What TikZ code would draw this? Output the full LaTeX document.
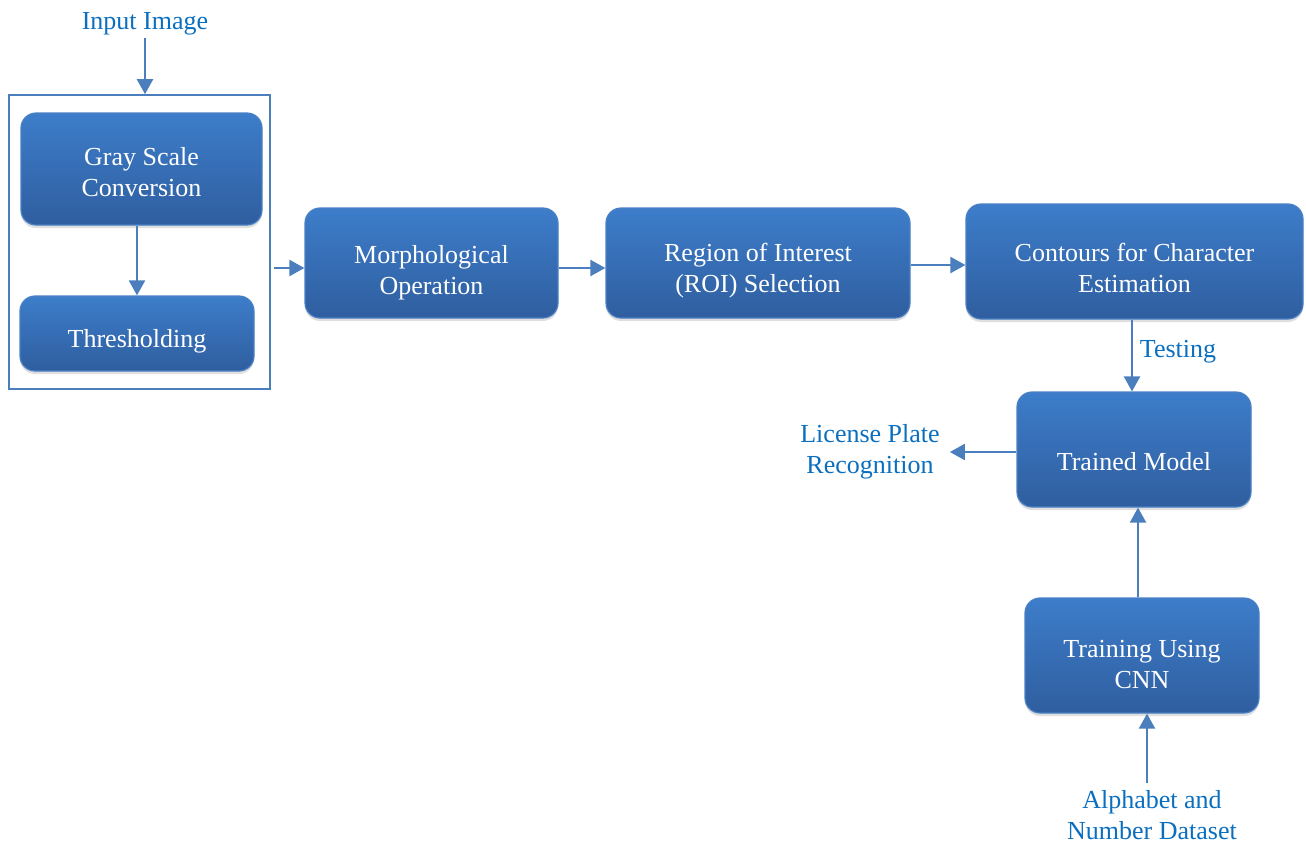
\documentclass[tikz,border=0pt]{standalone}
\usepackage{fontspec}
\setmainfont{Liberation Serif}
\usetikzlibrary{arrows.meta,shadows}
\definecolor{boxtop}{HTML}{3D7DCA}
\definecolor{boxbot}{HTML}{2F5E9F}
\definecolor{boxedge}{HTML}{4A80C4}
\definecolor{lbl}{HTML}{0B6FBF}
\definecolor{arr}{HTML}{4A7EBD}
\tikzset{
  procbox/.style={rectangle, rounded corners=15pt, top color=boxtop, bottom color=boxbot,
    draw=boxedge, line width=1.2pt, inner sep=0pt,
    drop shadow={opacity=0.25, shadow xshift=0pt, shadow yshift=-3pt}},
  boxtext/.style={text=white, align=center, font=\fontsize{26pt}{31pt}\selectfont, inner sep=0pt},
  lbltext/.style={text=lbl, align=center, font=\fontsize{26pt}{31pt}\selectfont, inner sep=0pt},
  flow/.style={draw=arr, line width=2.2pt, -{Triangle[length=15pt,width=16pt]}, color=arr},
}
\begin{document}
\begin{tikzpicture}[x=1pt,y=-1pt]
\useasboundingbox (0,0) rectangle (1306,844);
% container
\node[draw=arr, line width=1.6pt, minimum width=261pt, minimum height=294pt, inner sep=0pt] (grp) at (139.5,242) {};
\node[procbox, minimum width=241pt, minimum height=112pt] (gray) at (141.5,169) {};
\node[boxtext] (grayt) at (141.5,172) {Gray Scale\\Conversion};
\node[procbox, minimum width=234pt, minimum height=75pt] (thr) at (137,333.5) {};
\node[boxtext] (thrt) at (137,341.5) {Thresholding};
\node[procbox, minimum width=253pt, minimum height=110pt] (morph) at (431.5,263) {};
\node[boxtext] (morpht) at (431.5,272.5) {Morphological\\Operation};
\node[procbox, minimum width=304pt, minimum height=110pt] (roi) at (758,263) {};
\node[boxtext] (roit) at (758,271) {Region of Interest\\(ROI) Selection};
\node[procbox, minimum width=337pt, minimum height=115pt] (cont) at (1134.5,261.5) {};
\node[boxtext] (contt) at (1134.5,267.5) {Contours for Character\\Estimation};
\node[procbox, minimum width=234pt, minimum height=115pt] (trained) at (1134,449.5) {};
\node[boxtext] (trainedt) at (1134,462) {Trained Model};
\node[procbox, minimum width=234pt, minimum height=115pt] (cnn) at (1142,655.5) {};
\node[boxtext] (cnnt) at (1142,665) {Training Using\\CNN};
% labels
\node[lbltext] (inp) at (145,24) {Input Image};
\node[lbltext] (lpr) at (870,451.5) {License Plate\\Recognition};
\node[lbltext] (data) at (1152,815) {Alphabet and\\Number Dataset};
\node[lbltext] (test) at (1178,352) {Testing};
% arrows
\coordinate (a0) at (145,38);
\draw[flow] (a0) -- (a0 |- grp.north);
\coordinate (g1) at (137,0);
\draw[flow] (gray.south -| g1) -- (thr.north -| g1);
\coordinate (m1) at (0,268);
\draw[flow] ([xshift=3pt]grp.east |- m1) -- (morph.west |- m1);
\draw[flow] (morph.east |- m1) -- (roi.west |- m1);
\coordinate (m2) at (0,265);
\draw[flow] (roi.east |- m2) -- (cont.west |- m2);
\coordinate (c1) at (1132,0);
\draw[flow] (cont.south -| c1) -- (trained.north -| c1);
\coordinate (t1) at (0,452);
\draw[flow] (trained.west |- t1) -- ([xshift=10pt]lpr.east |- t1);
\coordinate (c2) at (1138,0);
\draw[flow] (cnn.north -| c2) -- (trained.south -| c2);
\coordinate (c3) at (1147,783);
\draw[flow] (c3) -- (cnn.south -| c3);
\end{tikzpicture}
\end{document}
